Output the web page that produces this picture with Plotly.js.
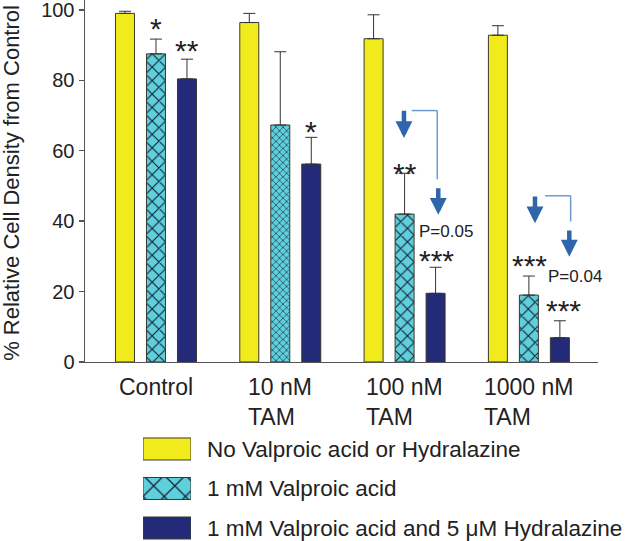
<!DOCTYPE html>
<html>
<head>
<meta charset="utf-8">
<script src="https://cdn.plot.ly/plotly-3.0.1.min.js"></script>
<style>
  html, body { margin: 0; padding: 0; background: #fff; }
  #chart { width: 630px; height: 541px; }
</style>
</head>
<body>
<div id="chart"></div>
<script>
// categories and series
var groups = ['Control', '10 nM<br>TAM', '100 nM<br>TAM', '1000 nM<br>TAM'];
var seriesNames = ['No Valproic acid or Hydralazine', '1 mM Valproic acid', '1 mM Valproic acid and 5 \u03bcM Hydralazine'];

var noDrug = [99.0, 96.4, 91.8, 92.8];
var noDrugErr = [0.6, 2.6, 6.8, 2.7];
var valproic = [87.5, 67.3, 42.0, 19.0];
var valproicErr = [4.2, 20.8, 11.6, 5.4];
var combo = [80.4, 56.2, 19.5, 6.9];
var comboErr = [5.6, 7.6, 7.4, 4.8];

// significance marks: [x (category index), y, text]
var marks = [
  [0.0, 97.4, '*'], [0.249, 90.9, '**'],
  [1.249, 67.9, '*'],
  [2.0, 56.2, '**'], [2.258, 31.5, '***'],
  [3.003, 29.9, '***'], [3.277, 17.1, '***']
];
var pValues = [[2.336, 37.0, 'P=0.05'], [3.367, 24.4, 'P=0.04']];

// comparison arrows: [x, yTop, yTip]
var arrows = [[1.995, 71.8, 63.6], [2.271, 49.8, 41.8], [3.049, 47.4, 39.4], [3.325, 37.8, 29.9]];
// brackets: [x1, x2, yTop, yBottom]
var brackets = [[2.057, 2.263, 71.4, 51.9], [3.130, 3.336, 47.2, 39.9]];

var yellow = '#f2eb1c';
var cyan = '#5fcfdc';
var navy = '#232a78';
var outline = '#3a3a30';
var hatch = '#14202e';
var font = 'Arial, "Liberation Sans", sans-serif';

function errBar(arr) {
  return {type: 'data', array: arr, arrayminus: arr.map(function () { return 0; }),
    symmetric: false, color: '#333', thickness: 1, width: 6};
}

var data = [
  {
    x: groups, y: noDrug, type: 'bar', name: seriesNames[0],
    marker: {color: yellow, line: {color: outline, width: 1}},
    error_y: errBar(noDrugErr)
  },
  {
    x: groups, y: valproic, type: 'bar', name: seriesNames[1],
    marker: {
      color: cyan, line: {color: outline, width: 1},
      pattern: {shape: 'x', size: [9.5, 5, 9.5, 9.5], solidity: 0.22, fgcolor: hatch, bgcolor: cyan, fillmode: 'replace'}
    },
    error_y: errBar(valproicErr)
  },
  {
    x: groups, y: combo, type: 'bar', name: seriesNames[2],
    marker: {color: navy, line: {color: outline, width: 1}},
    error_y: errBar(comboErr)
  }
];

// legend swatches, one small bar per series on their own axes
var swatchColors = [yellow, cyan, navy];
var swatchShapes = ['', 'x', ''];
seriesNames.forEach(function (name, k) {
  data.push({
    x: [1], y: [name], type: 'bar', orientation: 'h',
    xaxis: 'x2', yaxis: 'y2', width: 0.557, offset: -0.2785, hoverinfo: 'skip',
    marker: {
      color: swatchColors[k], line: {color: outline, width: 1},
      pattern: {shape: swatchShapes[k], size: 15, solidity: 0.16, fgcolor: hatch, bgcolor: swatchColors[k], fillmode: 'replace'}
    }
  });
});

var annotations = [];

groups.forEach(function (g, i) {
  annotations.push({
    xref: 'x', yref: 'paper', x: i, y: 0.3309, xanchor: 'center', yanchor: 'top',
    yshift: -10, align: 'left', text: g, showarrow: false,
    font: {family: font, size: 23, color: '#222'}
  });
});

marks.forEach(function (m) {
  annotations.push({
    xref: 'x', yref: 'y', x: m[0], y: m[1], yshift: -9, text: m[2], showarrow: false,
    font: {family: font, size: 30, color: '#222'}
  });
});

pValues.forEach(function (p) {
  annotations.push({
    xref: 'x', yref: 'y', x: p[0], y: p[1], text: p[2], showarrow: false,
    font: {family: font, size: 17, color: '#222'}
  });
});

arrows.forEach(function (a) {
  annotations.push({
    xref: 'x', yref: 'y', axref: 'x', ayref: 'y', x: a[0], y: a[2], ax: a[0], ay: a[1],
    text: '', showarrow: true, arrowhead: 2, arrowsize: 0.75, arrowwidth: 4.5, arrowcolor: '#2f66aa'
  });
});

annotations.push({
  xref: 'paper', yref: 'paper', x: 0, y: 0.662, xshift: -73, xanchor: 'center', yanchor: 'middle',
  textangle: -90, text: '% Relative Cell Density from Control', showarrow: false,
  font: {family: font, size: 22, color: '#222'}
});

var shapes = [];
brackets.forEach(function (b) {
  shapes.push({type: 'line', xref: 'x', yref: 'y', x0: b[0], x1: b[1], y0: b[2], y1: b[2],
    line: {color: '#6b9bd2', width: 1.5}});
  shapes.push({type: 'line', xref: 'x', yref: 'y', x0: b[1], x1: b[1], y0: b[2], y1: b[3],
    line: {color: '#6b9bd2', width: 1.5}});
});

var layout = {
  width: 630,
  height: 541,
  margin: {l: 85, r: 32, t: 0, b: 0},
  paper_bgcolor: '#fff',
  plot_bgcolor: '#fff',
  showlegend: false,
  barmode: 'group',
  bargap: 0.252,
  bargroupgap: 0.387,
  font: {family: font, color: '#222'},
  xaxis: {
    type: 'category', range: [-0.571, 3.556], domain: [0, 1], anchor: 'y',
    showticklabels: false, ticks: '', showgrid: false, zeroline: false,
    showline: true, linecolor: '#555', linewidth: 1.5, fixedrange: true
  },
  yaxis: {
    domain: [0.3309, 1], range: [0, 102.8], anchor: 'x',
    tickvals: [0, 20, 40, 60, 80, 100], ticks: 'outside', ticklen: 5, tickcolor: '#555', tickwidth: 1.5,
    tickfont: {family: font, size: 20, color: '#222'}, ticklabeloverflow: 'allow',
    showgrid: false, zeroline: false, showline: true, linecolor: '#555', linewidth: 1.5,
    automargin: false
  },
  xaxis2: {domain: [0.1131, 0.2066], range: [0, 1], anchor: 'y2', visible: false, fixedrange: true},
  yaxis2: {
    domain: [0, 0.2], range: [2.329, -0.41], anchor: 'x2', side: 'right', type: 'category',
    showgrid: false, zeroline: false, showline: false, ticks: '', ticklabelstandoff: 15,
    tickfont: {family: font, size: 22.5, color: '#222'}, automargin: false, fixedrange: true
  },
  annotations: annotations,
  shapes: shapes
};

Plotly.newPlot('chart', data, layout, {displayModeBar: false, staticPlot: true});
</script>
</body>
</html>
